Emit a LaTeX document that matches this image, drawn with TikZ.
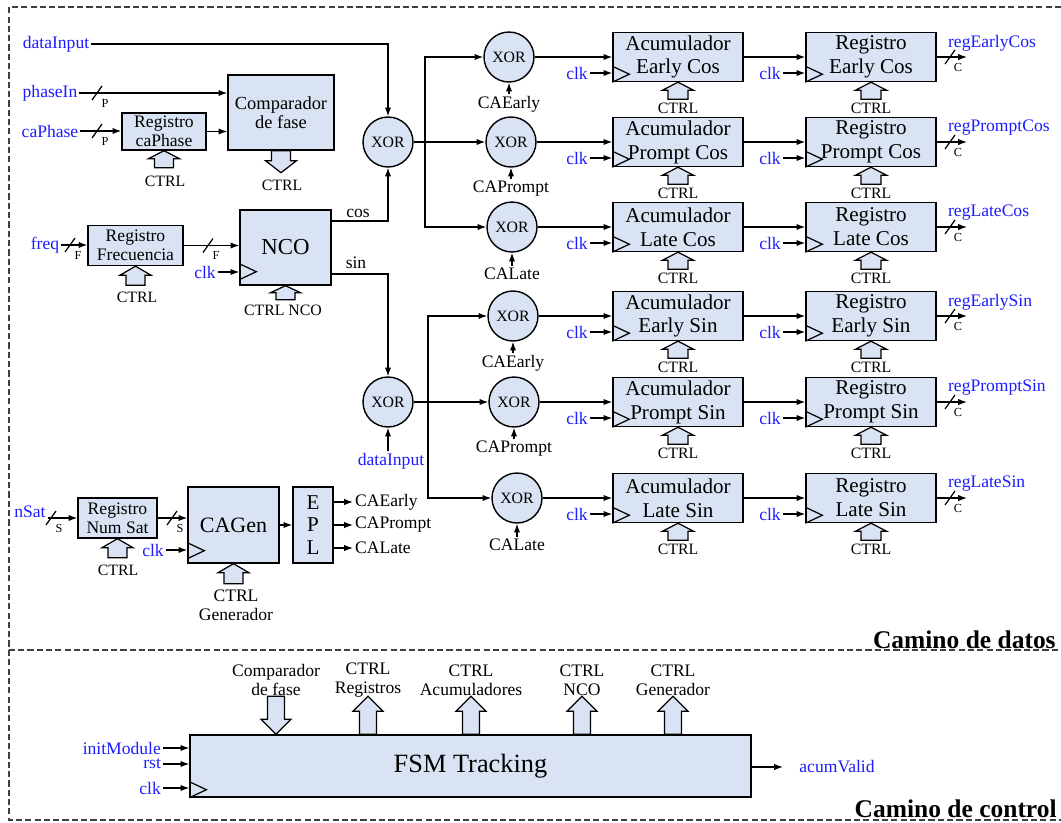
\documentclass[tikz,border=0pt]{standalone}
\usepackage{fontspec}
\setmainfont{Liberation Serif}
\usepackage{xcolor}
\definecolor{boxFill}  {HTML}{DAE3F3}
\definecolor{sigBlue}  {HTML}{1C1CFF}
\definecolor{frameGray}{HTML}{404040}
\usetikzlibrary{arrows.meta, positioning, calc}

\begin{document}
\begin{tikzpicture}[x=0.02cm, y=-0.02cm,
    box/.style={draw, fill=boxFill, line width=0.8pt, align=center, inner sep=0pt},
    smallbox/.style={box, font=\fontsize{10}{10.8}\selectfont},
    accbox/.style={box, minimum width=2.6cm, minimum height=0.98cm, font=\fontsize{12}{13.6}\selectfont},
    xorgate/.style={circle, draw, fill=boxFill, line width=0.8pt, minimum size=1cm, inner sep=0pt, font=\fontsize{9}{10}\selectfont},
    sig/.style={text=sigBlue, inner sep=1pt, font=\fontsize{10}{12}\selectfont},
    lbl/.style={inner sep=1pt, align=center, font=\fontsize{10}{11}\selectfont},
    ctrl/.style={inner sep=1pt, font=\fontsize{9}{10}\selectfont},
    buslbl/.style={inner sep=0pt, font=\fontsize{7}{8}\selectfont},
    pathtitle/.style={anchor=base east, inner sep=0pt, font=\bfseries\fontsize{14.5}{16}\selectfont},
    sigline/.style={-{Latex[length=5pt, width=3.6pt]}, line width=0.7pt},
    hollow/.style={fill=boxFill, draw, line width=0.7pt},
    dashframe/.style={draw=frameGray, line width=0.6pt, dash pattern=on 3.5pt off 1.8pt},
    pics/ctrlarrow/.style n args={4}{code={
        \filldraw[hollow] (0,0) -- (#2/2,#4) -- (#3/2,#4) -- (#3/2,#1)
            -- (-#3/2,#1) -- (-#3/2,#4) -- (-#2/2,#4) -- cycle;}},
    pics/clock/.style={code={\draw[line width=0.7pt] (0,0) -- (17,-8) -- (0,-16);}},
    pics/bus/.style={code={\draw[line width=0.7pt] (-5,7) -- (5,-7);
        \node[buslbl] (-b) at (8,10) {#1};}}]
    \useasboundingbox (0,0) rectangle (1061,822);

    % --- Dashed frames: data path (top), control path (bottom) ---
    \draw[dashframe] (1061,7) -- (9,7) -- (9,650) -- (1061,650);
    \draw[dashframe] (9,650) -- (9,820) -- (1061,820);
    \node[pathtitle] (tDat) at (1056,648) {Camino de datos};
    \node[pathtitle] (tCtl) at (1057,817) {Camino de control};

    % --- Phase comparator ---
    \node[sig] (phIn) at (50,93) {phaseIn};
    \node[sig] (caPh) at (50,131) {caPhase};
    \node[smallbox, minimum width=1.68cm, minimum height=0.74cm] (rCa) at (164,131.5) {Registro\\caPhase};
    \node[smallbox, minimum width=2.12cm, minimum height=1.5cm, font=\fontsize{10.5}{11}\selectfont] (cmp) at (281,112.5) {Comparador\\de fase};
    \node[ctrl] (ctCa) at (165,181) {CTRL};
    \node[ctrl] (ctCmp) at (282,185) {CTRL};
    \draw[sigline] (phIn.east) -- (phIn.east -| cmp.west);
    \draw[sigline] (caPh.east) -- (caPh.east -| rCa.west);
    \draw[sigline] (rCa.east) -- (rCa.east -| cmp.west);
    \pic at (97,93) {bus=P};
    \pic at (97,131) {bus=P};
    \pic at (rCa.south) {ctrlarrow={17}{31}{19}{8}};
    \pic[rotate=180] at ($(cmp.south)+(0,22)$) {ctrlarrow={22}{31}{19}{12}};

    % --- Frequency register and NCO ---
    \node[sig] (freq) at (45,245) {freq};
    \node[smallbox, minimum width=1.9cm, minimum height=0.8cm] (rF) at (135.5,245.5) {Registro\\Frecuencia};
    \node[box, minimum width=1.82cm, minimum height=1.5cm, font=\fontsize{13}{15}\selectfont] (nco) at (285.5,247.5) {NCO};
    \node[sig] (ckN) at (205,272) {clk};
    \node[ctrl] (ctF) at (137,297) {CTRL};
    \node[ctrl] (ctN) at (283,310) {CTRL NCO};
    \node[lbl] (lCos) at (358,213) {cos};
    \node[lbl] (lSin) at (356,263) {sin};
    \draw[sigline] (freq.east) -- (freq.east -| rF.west);
    \draw[sigline] (rF.east) -- (rF.east -| nco.west);
    \draw[sigline] (ckN.east) -- (ckN.east -| nco.west);
    \pic at (70,245) {bus=F};
    \pic at (208,245.5) {bus=F};
    \pic at ($(nco.south west)+(0,-6)$) {clock};
    \pic at (rF.south) {ctrlarrow={19}{31}{19}{9}};
    \pic at (nco.south) {ctrlarrow={14}{30}{19}{7}};

    % --- Carrier mixers (cos above, sin below) ---
    \node[sig] (dIn) at (56,44) {dataInput};
    \node[xorgate] (xc) at (388,142) {XOR};
    \node[xorgate] (xs) at (388,402) {XOR};
    \node[sig] (dI2) at (391,461) {dataInput};
    \coordinate (brC) at (425,142);
    \coordinate (brS) at (428,402);
    \draw[sigline] (dIn.east) -| (xc.north);
    \draw[sigline] ($(nco.east)+(0,-26.5)$) -| (xc.south);
    \draw[sigline] ($(nco.east)+(0,26.5)$) -| (xs.north);
    \draw[sigline] (xs |- dI2.north) -- (xs.south);

    % --- Six correlator rows: code XOR, accumulator, register ---
    \foreach \i/\y/\xo/\caName/\nm/\regName in {
        1/57/509/CAEarly/Early Cos/regEarlyCos,
        2/142/511/CAPrompt/Prompt Cos/regPromptCos,
        3/227/512/CALate/Late Cos/regLateCos,
        4/316/513/CAEarly/Early Sin/regEarlySin,
        5/402/514/CAPrompt/Prompt Sin/regPromptSin,
        6/498/517/CALate/Late Sin/regLateSin}{
        \begin{scope}[shift={(0,\y)}]
            \node[xorgate] (x\i) at (\xo,0) {XOR};
            \node[lbl] (ca\i) at (\xo,47) {\caName};
            \node[accbox] (acc\i) at (678,0) {Acumulador\\\nm};
            \node[accbox] (reg\i) at (871,0) {Registro\\\nm};
            \node[sig] (ckA\i) at (577,16) {clk};
            \node[sig] (ckR\i) at (770,16) {clk};
            \node[ctrl] (ctA\i) at (678,51) {CTRL};
            \node[ctrl] (ctR\i) at (871,51) {CTRL};
            \node[sig, anchor=west] (out\i) at (946,-14) {\regName};
            \coordinate (end\i) at (967,0);
            \pic at (acc\i.south west) {clock};
            \pic at (reg\i.south west) {clock};
            \pic at (acc\i.south) {ctrlarrow={17}{31}{20}{8}};
            \pic at (reg\i.south) {ctrlarrow={17}{31}{20}{8}};
            \pic at (950,0) {bus=C};
            \draw[sigline] (ca\i) -- (x\i);
            \draw[sigline] (x\i) -- (acc\i);
            \draw[sigline] (acc\i) -- (reg\i);
            \draw[sigline] (ckA\i) -- (ckA\i -| acc\i.west);
            \draw[sigline] (ckR\i) -- (ckR\i -| reg\i.west);
            \draw[sigline] (reg\i) -- (end\i);
        \end{scope}
    }
    \draw[sigline] (xc) -- (x2);
    \draw[sigline] (brC) |- (x1);
    \draw[sigline] (brC) |- (x3);
    \draw[sigline] (xs) -- (x5);
    \draw[sigline] (brS) |- (x4);
    \draw[sigline] (brS) |- (x6);

    % --- Code generator ---
    \node[sig] (nSat) at (30,512) {nSat};
    \node[smallbox, minimum width=1.58cm, minimum height=0.8cm] (rNS) at (117.5,518) {Registro\\Num Sat};
    \node[box, minimum width=1.82cm, minimum height=1.52cm, font=\fontsize{12.5}{15}\selectfont] (cag) at (233.5,525) {CAGen};
    \node[box, minimum width=0.8cm, minimum height=1.52cm, font=\fontsize{12}{13}\selectfont] (epl) at (313,525) {E\\P\\L};
    \node[sig] (ckC) at (153,550) {clk};
    \node[ctrl] (ctNS) at (118,570) {CTRL};
    \node[lbl] (ctGen) at (236,605) {CTRL\\Generador};
    \node[lbl, anchor=west] (oE) at (353,502) {CAEarly};
    \node[lbl, anchor=west] (oP) at (353,525) {CAPrompt};
    \node[lbl, anchor=west] (oL) at (353,548) {CALate};
    \draw[sigline] (nSat.south east |- rNS) -- (rNS);
    \draw[sigline] (rNS.east) -- (rNS.east -| cag.west);
    \draw[sigline] (ckC.east) -- (ckC.east -| cag.west);
    \draw[sigline] (cag) -- (epl);
    \draw[sigline] (epl.east |- oE) -- (oE);
    \draw[sigline] (epl.east |- oP) -- (oP);
    \draw[sigline] (epl.east |- oL) -- (oL);
    \pic at (51,518) {bus=S};
    \pic at (172,518) {bus=S};
    \pic at ($(cag.south west)+(0,-5)$) {clock};
    \pic at (rNS.south) {ctrlarrow={19}{31}{19}{9}};
    \pic at (cag.south) {ctrlarrow={20}{31}{19}{9}};

    % --- Control path: FSM ---
    \node[box, minimum width=11.22cm, minimum height=1.24cm, font=\fontsize{15}{18}\selectfont] (fsm) at (470.5,766) {FSM Tracking};
    \node[sig, anchor=east] (init) at (163,748) {initModule};
    \node[sig, anchor=east] (rst) at (163,764) {rst};
    \node[sig, anchor=east] (ckF) at (163,788) {clk};
    \node[sig] (aV) at (837,767) {acumValid};
    \coordinate (avEnd) at (783,767);
    \node[lbl] (fCmp) at (276,680) {Comparador\\de fase};
    \node[lbl] (fReg) at (368,680) {CTRL\\Registros};
    \node[lbl] (fAcc) at (471,680) {CTRL\\Acumuladores};
    \node[lbl] (fNco) at (582,680) {CTRL\\NCO};
    \node[lbl] (fGen) at (673,680) {CTRL\\Generador};
    \draw[sigline] (init) -- (init -| fsm.west);
    \draw[sigline] (rst) -- (rst -| fsm.west);
    \draw[sigline] (ckF) -- (ckF -| fsm.west);
    \draw[sigline] (fsm.east |- avEnd) -- (avEnd);
    \pic at (fsm.south west) {clock};
    \pic[rotate=180] at (fCmp |- fsm.north) {ctrlarrow={38}{30}{17}{15}};
    \pic at ($(fReg |- fsm.north)+(0,-38)$) {ctrlarrow={38}{30}{17}{15}};
    \pic at ($(fAcc |- fsm.north)+(0,-38)$) {ctrlarrow={38}{30}{17}{15}};
    \pic at ($(fNco |- fsm.north)+(0,-38)$) {ctrlarrow={38}{30}{17}{15}};
    \pic at ($(fGen |- fsm.north)+(0,-38)$) {ctrlarrow={38}{30}{17}{15}};
\end{tikzpicture}
\end{document}
